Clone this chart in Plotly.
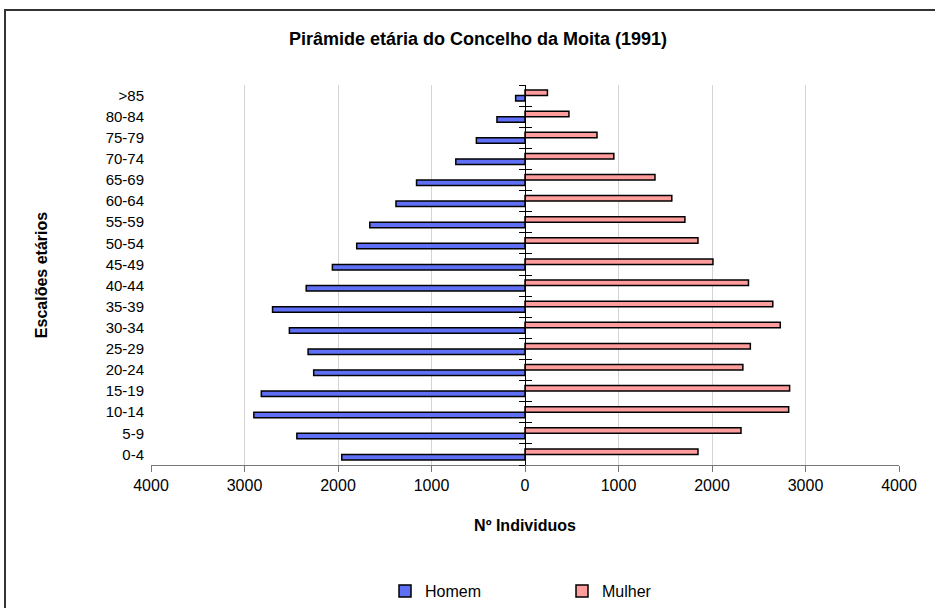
import plotly.graph_objects as go

# Age groups, bottom to top
age_groups = ["0-4", "5-9", "10-14", "15-19", "20-24", "25-29", "30-34", "35-39",
              "40-44", "45-49", "50-54", "55-59", "60-64", "65-69", "70-74",
              "75-79", "80-84", ">85"]
homem = [1960, 2440, 2900, 2820, 2260, 2320, 2520, 2700, 2340, 2060,
         1800, 1660, 1380, 1160, 740, 520, 300, 100]
mulher = [1850, 2310, 2820, 2830, 2330, 2410, 2730, 2650, 2390, 2010,
          1850, 1710, 1570, 1390, 950, 770, 470, 240]
x_ticks = [-4000, -3000, -2000, -1000, 0, 1000, 2000, 3000, 4000]

W, H = 935, 608
FONT = "Liberation Sans, Arial, sans-serif"

# plot area in pixels
left, right, top, bottom = 151, 899, 85, 465
x_dom = [left / W, right / W]
y_dom = [1 - bottom / H, 1 - top / H]
zero_pos = (x_dom[0] + x_dom[1]) / 2

pos = list(range(len(age_groups)))
bounds = [p - 0.5 for p in pos] + [pos[-1] + 0.5]

fig = go.Figure()
fig.add_trace(go.Bar(
    y=pos, x=[-v for v in homem], orientation="h", name="Homem",
    marker=dict(color="#5f70f6", line=dict(color="black", width=1.5)),
    customdata=homem, hovertemplate="%{customdata}<extra>Homem</extra>",
))
fig.add_trace(go.Bar(
    y=pos, x=mulher, orientation="h", name="Mulher",
    marker=dict(color="#ff9c9c", line=dict(color="black", width=1.5)),
    hovertemplate="%{x}<extra>Mulher</extra>",
))

fig.update_layout(
    width=W, height=H,
    margin=dict(l=0, r=0, t=0, b=0),
    paper_bgcolor="white", plot_bgcolor="white",
    font=dict(family=FONT, size=15, color="black"),
    barmode="group", bargap=0.48, bargroupgap=0,
    title=dict(text="<b>Pirâmide etária do Concelho da Moita (1991)</b>",
               x=478 / W, xanchor="center", y=1 - 39 / H, yanchor="middle",
               font=dict(size=18)),
    xaxis=dict(
        domain=x_dom, range=[-4000, 4000], tickvals=x_ticks,
        ticktext=[str(abs(v)) for v in x_ticks],
        showgrid=True, gridcolor="#d4d4d4", gridwidth=1, zeroline=False,
        showline=True, linecolor="#777777", linewidth=1,
        ticks="outside", ticklen=6, tickcolor="#777777",
        tickfont=dict(size=16), automargin=False,
        title=dict(text="<b>Nº Individuos</b>", standoff=26, font=dict(size=16)),
    ),
    yaxis=dict(
        domain=y_dom, range=[-0.5, len(age_groups) - 0.5],
        tickvals=pos, ticktext=age_groups, showgrid=False, zeroline=False,
        showline=False, ticks="", ticklabelstandoff=6, automargin=False,
        title=dict(text="<b>Escalões etários</b>", standoff=54, font=dict(size=16)),
    ),
    yaxis2=dict(
        overlaying="y", matches="y", anchor="free", position=zero_pos,
        tickvals=bounds, showticklabels=False, showgrid=False, zeroline=False,
        showline=True, linecolor="black", linewidth=1,
        ticks="outside", ticklen=6, tickcolor="black",
    ),
    yaxis3=dict(
        overlaying="y", matches="y", anchor="free", position=zero_pos,
        tickvals=bounds, showticklabels=False, showgrid=False, zeroline=False,
        showline=False, ticks="inside", ticklen=6, tickcolor="black",
    ),
    legend=dict(orientation="h", x=385 / W, xanchor="left",
                y=1 - 591 / H, yanchor="middle",
                entrywidth=132, entrywidthmode="pixels",
                font=dict(size=16), bgcolor="rgba(0,0,0,0)"),
    shapes=[dict(type="rect", xref="paper", yref="paper",
                 x0=5 / W, x1=1.02, y0=-0.02, y1=1 - 10 / H,
                 line=dict(color="#333333", width=2))],
)

# keep the overlay axes drawn
fig.add_trace(go.Scatter(x=[0], y=[0], yaxis="y2", mode="markers",
                         marker=dict(opacity=0), showlegend=False, hoverinfo="skip"))
fig.add_trace(go.Scatter(x=[0], y=[0], yaxis="y3", mode="markers",
                         marker=dict(opacity=0), showlegend=False, hoverinfo="skip"))

# drop the default page margin so the figure sits at the window origin
fig.write_html("out.html", config={"displayModeBar": False},
               post_script="document.body.style.margin='0';")
